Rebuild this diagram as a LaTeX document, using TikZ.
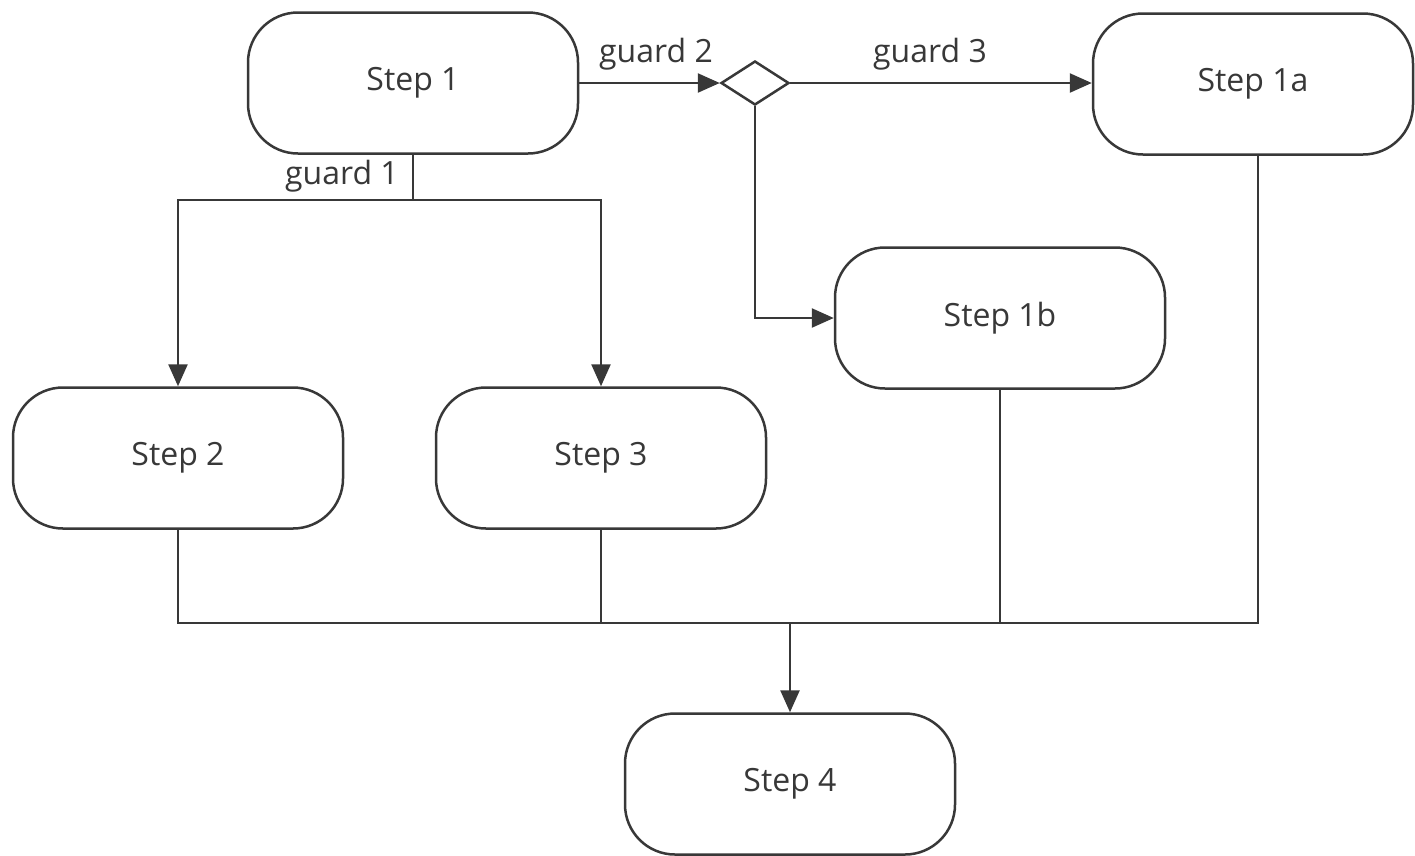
\documentclass[tikz,border=0pt]{standalone}
\usepackage{fontspec}
\setmainfont{Open Sans}
\usetikzlibrary{arrows.meta,shapes.geometric}
\definecolor{ink}{HTML}{383838}
\begin{document}
\begin{tikzpicture}[x=1pt,y=-1pt,
  stepbox/.style={draw=ink, line width=2.5pt, rounded corners=50pt,
    minimum width=330pt, minimum height=141pt, inner sep=0pt,
    text=ink, font=\fontsize{32}{38}\selectfont},
  choice/.style={draw=ink, line width=2.5pt, diamond,
    minimum width=68pt, minimum height=44pt, inner sep=0pt},
  flow/.style={draw=ink, line width=2.5pt},
  arr/.style={flow, -{Triangle[length=22pt,width=19pt]}},
  guard/.style={text=ink, font=\fontsize{32}{38}\selectfont, inner sep=0pt}]
\useasboundingbox (0,0) rectangle (1415,855);
\fill[white] (0,0) rectangle (1415,855);

% activity steps
\node[stepbox] (s1) at (413,83) {Step 1};
\node[choice] (dec) at (755,83) {};
\node[stepbox, minimum width=320pt] (s1a) at (1253,84) {Step 1a};
\node[stepbox] (s1b) at (1000,318) {Step 1b};
\node[stepbox] (s2) at (178,458) {Step 2};
\node[stepbox] (s3) at (601,458) {Step 3};
\node[stepbox] (s4) at (790,784) {Step 4};

% guard 1: fork into Step 2 and Step 3
\coordinate (split) at (413,200);
\draw[flow] (s1.south) -- (split);
\draw[arr] (split) -| (s2.north);
\draw[arr] (split) -| (s3.north);
\node[guard] (g1) at (342,176) {guard 1};

% guard 2: decision between Step 1a and Step 1b
\draw[arr] (s1.east) -- (dec.west);
\node[guard] (g2) at (656,54) {guard 2};
\draw[arr] (dec.east) -- (dec.east -| s1a.west);
\node[guard] (g3) at (930,54) {guard 3};
\draw[arr] (dec.south) |- (s1b.west);

% merge into Step 4
\coordinate (join) at (790,623);
\coordinate (s1aout) at ([xshift=5pt]s1a.south);
\draw[flow] (s2.south) |- (s1aout |- join) -- (s1aout);
\draw[flow] (s3.south) -- (s3.south |- join);
\draw[flow] (s1b.south) -- (s1b.south |- join);
\draw[arr] (join) -- (s4.north);
\end{tikzpicture}
\end{document}
